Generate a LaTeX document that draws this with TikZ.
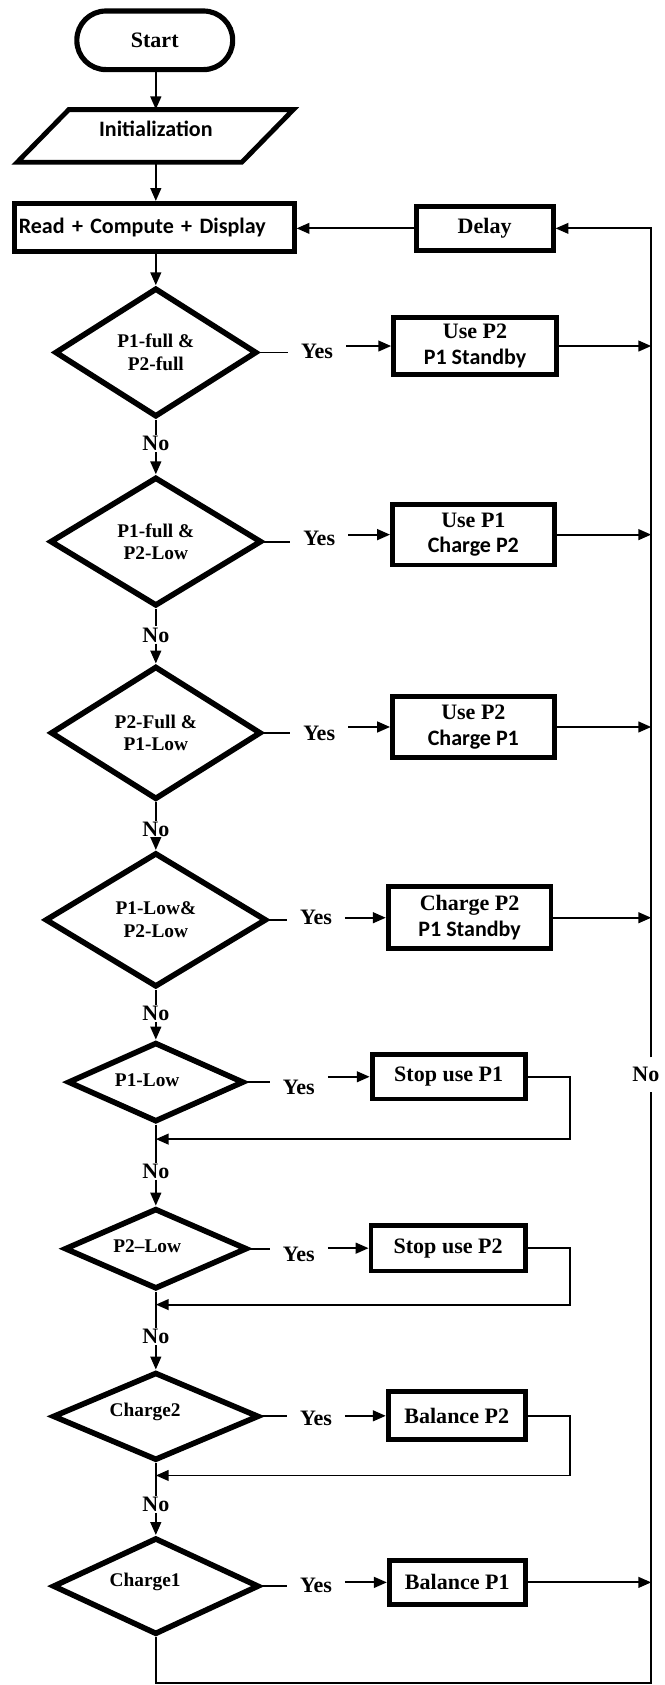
\documentclass[tikz,border=0pt]{standalone}
\usepackage{fontspec}
\setmainfont{Liberation Serif}
\newfontfamily\calfont{Carlito}
\usetikzlibrary{shapes.geometric,arrows.meta,calc}
\begin{document}
\begin{tikzpicture}[x=1pt,y=-1pt,
  every node/.style={font=\bfseries\fontsize{20.5}{24}\selectfont},
  calf/.style={font=\calfont\bfseries\fontsize{20.5}{24}\selectfont},
  box/.style={draw, rectangle, line width=4.5pt, inner sep=2pt, align=center},
  dia/.style={draw, diamond, line width=5.2pt, inner sep=0pt, align=center, font=\bfseries\fontsize{18}{21}\selectfont},
  dtext/.style={font=\bfseries\fontsize{18}{21}\selectfont, inner sep=0pt, align=center},
  conn/.style={line width=1.8pt},
  arr/.style={conn, -{Triangle[length=12pt,width=10pt]}},
  lab/.style={inner xsep=12pt, inner ysep=1pt},
  nolab/.style={inner sep=1pt},
]
\useasboundingbox (0,0) rectangle (618,1568);

% top part
\node[box, line width=4.8pt, rounded corners=27pt, minimum width=145pt, minimum height=54.5pt] (start) at (144,37.5) {Start};
\node[minimum width=150pt, minimum height=49pt, inner sep=0pt] (init) at (145,126.5) {};
\draw[line width=4.5pt] (64,102) -- (273,102) -- (225,151) -- (16,151) -- cycle;
\node[calf] (inittxt) at (145,120) {Initialization};
\node[box, calf, minimum height=44.5pt, text width=252pt, inner xsep=4.25pt, align=left] (read) at (143.5,211.5) {Read + Compute + Display};
\node[box, minimum width=127.5pt, minimum height=40.5pt] (delay) at (451,212.5) {Delay};

\draw[arr] (start.south -| init.north) -- (init.north);
\draw[arr] (init.south) -- (init.south |- read.north);
\draw[arr] (delay.west) -- (delay.west -| read.east);

% decisions
\node[dia, minimum width=188pt, minimum height=120pt] (d1) at (145,328) {P1-full \&\\P2-full};
\node[dia, minimum width=197pt, minimum height=120pt] (d2) at (145,504) {P1-full \&\\P2-Low};
\node[dia, minimum width=196pt, minimum height=124pt] (d3) at (145,682) {P2-Full \&\\P1-Low};
\node[dia, minimum width=206pt, minimum height=125pt] (d4) at (145,856) {P1-Low\&\\P2-Low};
\node[dia, minimum width=164pt, minimum height=74pt] (d5) at (145,1007) {};
\node[dtext] (t5) at (137,1005) {P1-Low};
\node[dia, minimum width=170pt, minimum height=75pt] (d6) at (145,1162) {};
\node[dtext] (t6) at (137,1160) {P2--Low};
\node[dia, minimum width=192pt, minimum height=82pt] (d7) at (145,1318) {};
\node[dtext] (t7) at (135,1314) {Charge2};
\node[dia, minimum width=192pt, minimum height=90pt] (d8) at (145,1476) {};
\node[dtext] (t8) at (135,1472) {Charge1};

\draw[arr] (read.south -| init.south) -- (d1.north);

% action boxes
\node[box, minimum width=151.5pt, minimum height=53.5pt] (b1) at (442,322) {Use P2\\{\calfont P1 Standby}};
\node[box, minimum width=150.5pt, minimum height=56.5pt] (b2) at (440.5,497.5) {Use P1\\{\calfont Charge P2}};
\node[box, minimum width=150.5pt, minimum height=56.5pt] (b3) at (440.5,676.5) {Use P2\\{\calfont Charge P1}};
\node[box, minimum width=151.5pt, minimum height=57.5pt] (b4) at (437,854) {Charge P2\\{\calfont P1 Standby}};
\node[box, minimum width=142.5pt, minimum height=41.5pt] (b5) at (417.5,1002) {Stop use P1};
\node[box, minimum width=143.5pt, minimum height=42.5pt] (b6) at (417,1161.5) {Stop use P2};
\node[box, minimum width=127.5pt, minimum height=44.5pt] (b7) at (425,1317.5) {Balance P2};
\node[box, minimum width=126.5pt, minimum height=40.5pt] (b8) at (425.5,1472.5) {Balance P1};

% Yes labels
\node[lab] (y1) at (295,327) {Yes};
\node[lab] (y2) at (297,501) {Yes};
\node[lab] (y3) at (297,682) {Yes};
\node[lab] (y4) at (294,854) {Yes};
\node[lab] (y5) at (278,1012) {Yes};
\node[lab] (y6) at (278,1167) {Yes};
\node[lab] (y7) at (294,1320) {Yes};
\node[lab] (y8) at (294,1475) {Yes};

\foreach \i in {1,...,8}{
  \draw[conn] (d\i.east) -- (d\i.east -| y\i.west);
  \draw[arr] (y\i.east |- b\i.west) -- (b\i.west);
}

% No labels on main column
\node[nolab] (n1) at (145,413) {No};
\node[nolab] (n2) at (145,591) {No};
\node[nolab] (n3) at (145,772) {No};
\node[nolab] (n4) at (145,943) {No};
\node[nolab] (n5) at (145,1090) {No};
\node[nolab] (n6) at (145,1244) {No};
\node[nolab] (n7) at (145,1400) {No};

\foreach \i/\j in {1/2,2/3,3/4,4/5,5/6,6/7,7/8}{
  \draw[conn] (d\i.south) -- (n\i.north);
  \draw[arr] (n\i.south) -- (d\j.north);
}

% return loops
\coordinate (rx) at (530,0);
\coordinate (j5) at (145,1060);
\coordinate (j6) at (145,1214);
\coordinate (j7) at (145,1373);
\draw[arr] (b5.east) -- (b5.east -| rx) |- (j5);
\draw[arr] (b6.east) -- (b6.east -| rx) |- (j6);
\draw[arr] (b7.east) -- (b7.east -| rx) |- (j7);

% right feedback line
\coordinate (rb) at (606,1566);
\node[nolab, inner ysep=9pt] (nR) at (601,1000) {No};
\foreach \i in {1,2,3,4,8}{
  \draw[arr] (b\i.east) -- (b\i.east -| rb);
}
\draw[line width=1.6pt] (d8.south) |- (rb) -- (rb |- nR.south);
\draw[line width=1.6pt, -{Triangle[length=12pt,width=10pt]}] (rb |- nR.north) -- (rb |- delay.east) -- (delay.east);

\end{tikzpicture}
\end{document}
